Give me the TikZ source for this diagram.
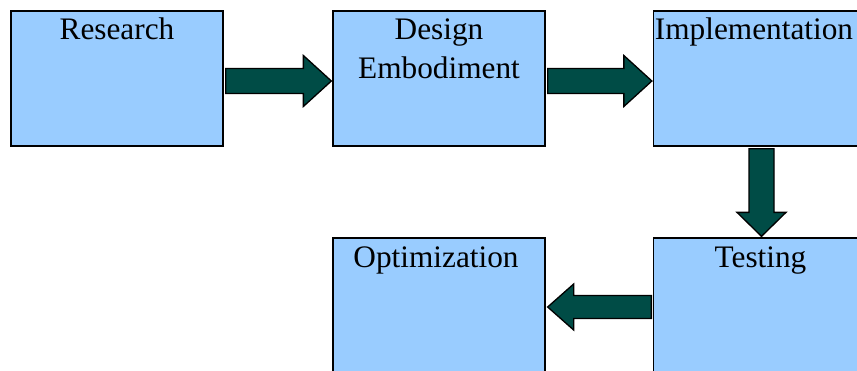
\documentclass[tikz,border=0pt]{standalone}
\usepackage{fontspec}
\setmainfont{Liberation Serif}
\usetikzlibrary{calc}
\definecolor{boxblue}{HTML}{99CCFF}
\definecolor{arrowteal}{HTML}{004C46}
\tikzset{
  stagebox/.style={draw=black, line width=1.3pt, fill=boxblue, minimum width=212pt, minimum height=135pt, inner sep=0pt},
  stagetext/.style={anchor=base, inner sep=0pt, font=\fontsize{31.3}{39}\selectfont},
  blockarrow/.style={draw=black, line width=1.3pt, fill=arrowteal, line join=miter}
}
% #1 start, #2 end, #3 shaft half width, #4 head half width, #5 head length
\newcommand\myblockarrow[5]{%
  \path let \p1=(#1), \p2=(#2),
    \n1={veclen(\x2-\x1,\y2-\y1)},
    \n2={atan2(\y2-\y1,\x2-\x1)} in
    [blockarrow, shift={(\p1)}, rotate=\n2]
    (0,#3) -- ({\n1-#5},#3) -- ({\n1-#5},#4) -- (\n1,0) -- ({\n1-#5},-#4) -- ({\n1-#5},-#3) -- (0,-#3) -- cycle;
}
\begin{document}
\begin{tikzpicture}[x=1pt, y=-1pt]
\useasboundingbox (0,0) rectangle (857,370);
\clip (0,0) rectangle (857,370);
% boxes
\node[stagebox] (r) at (117,78.5) {};
\node[stagebox] (d) at (439,78.5) {};
\node[stagebox] (i) at (759.5,78.5) {};
\node[stagebox] (t) at (759.5,305.5) {};
\node[stagebox] (o) at (439,305.5) {};
% texts
\node[stagetext] (rt) at (117,39) {Research};
\node[stagetext] (dt1) at (439,39) {Design};
\node[stagetext] (dt2) at (439,78) {Embodiment};
\node[stagetext] (it) at (754,39) {Implementation};
\node[stagetext] (tt) at (760.5,267) {Testing};
\node[stagetext] (ot) at (436,267) {Optimization};
% arrow end points
\coordinate (a1s) at ([xshift=2pt,yshift=-2.5pt]r.east);
\coordinate (a1e) at ([xshift=-1pt,yshift=-2.5pt]d.west);
\coordinate (a2s) at ([xshift=2pt,yshift=-2.5pt]d.east);
\coordinate (a2e) at ([xshift=-1pt,yshift=-2.5pt]i.west);
\coordinate (a3s) at ([xshift=2pt,yshift=-2pt]i.south);
\coordinate (a3e) at ([xshift=2pt,yshift=1pt]t.north);
\coordinate (a4s) at ([xshift=-1.5pt,yshift=-1.5pt]t.west);
\coordinate (a4e) at ([xshift=2pt,yshift=-1.5pt]o.east);
% arrows
\myblockarrow{a1s}{a1e}{12.5}{25.5}{28}
\myblockarrow{a2s}{a2e}{12.5}{25.5}{28}
\myblockarrow{a3s}{a3e}{12.5}{24.5}{24}
\myblockarrow{a4s}{a4e}{11.5}{23}{26}
\end{tikzpicture}
\end{document}
